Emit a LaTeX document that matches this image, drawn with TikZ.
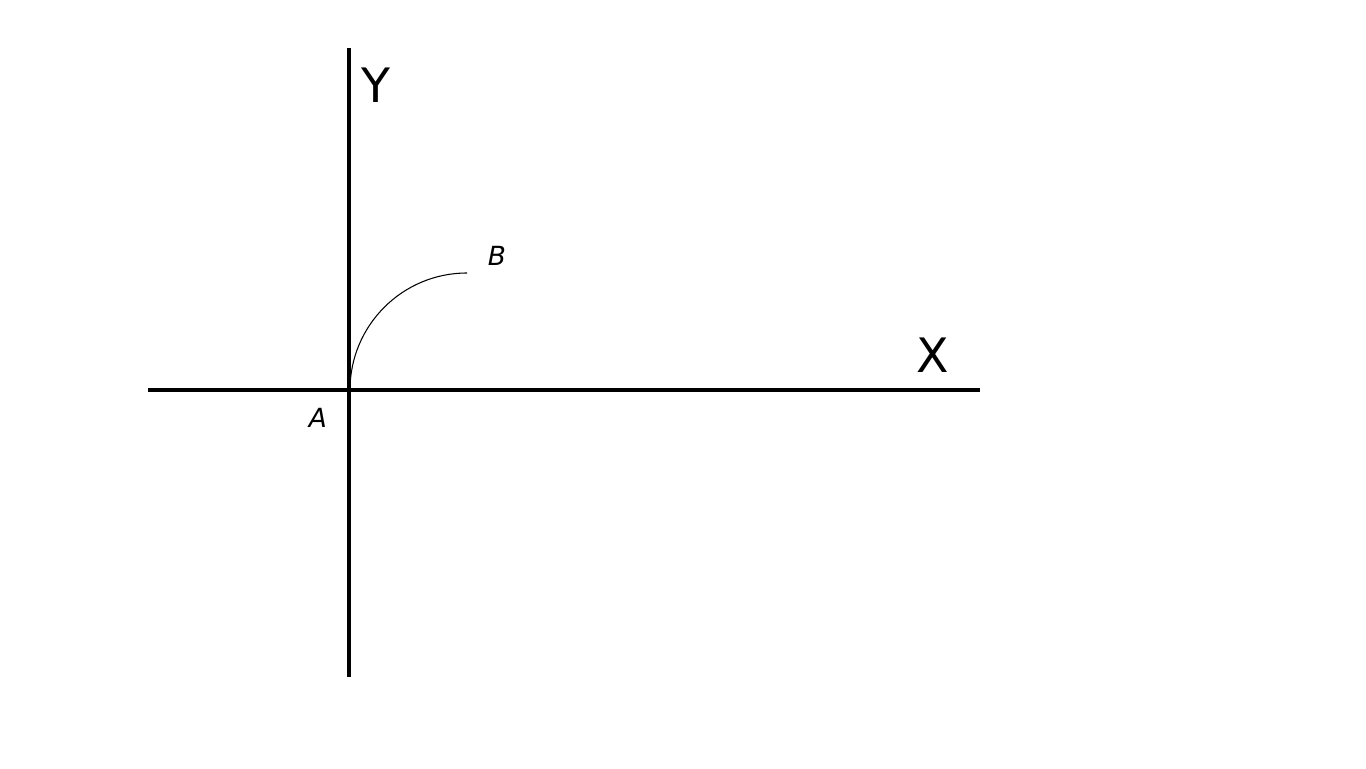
\documentclass[tikz,border=0pt]{standalone}
\usepackage{fontspec}
\setmainfont{DejaVu Sans}
\begin{document}
\begin{tikzpicture}[x=0.02cm,y=0.02cm]
      \useasboundingbox (0,0) rectangle (1366,768);
      \coordinate (A) at (350,378);
      \coordinate (xl) at (148,378);
      \coordinate (xr) at (980,378);
      \coordinate (yb) at (349,91);
      \coordinate (yt) at (349,720);
      \draw[line width=2.3pt] (xl) -- (xr);
      \draw[line width=2.3pt] (yb) -- (yt);
      \draw[line width=0.6pt] (A) arc[start angle=180,end angle=90,radius=117] coordinate (B);
      \node[font=\fontsize{27}{30}\selectfont] (ylab) at (376,683) {Y};
      \node[font=\fontsize{27}{30}\selectfont] (xlab) at (933,413) {X};
      \node[font=\fontsize{15}{17}\selectfont\itshape] (blab) at (497,512) {B};
      \node[font=\fontsize{15}{17}\selectfont\itshape] (alab) at (318,350) {A};
\end{tikzpicture}
\end{document}
